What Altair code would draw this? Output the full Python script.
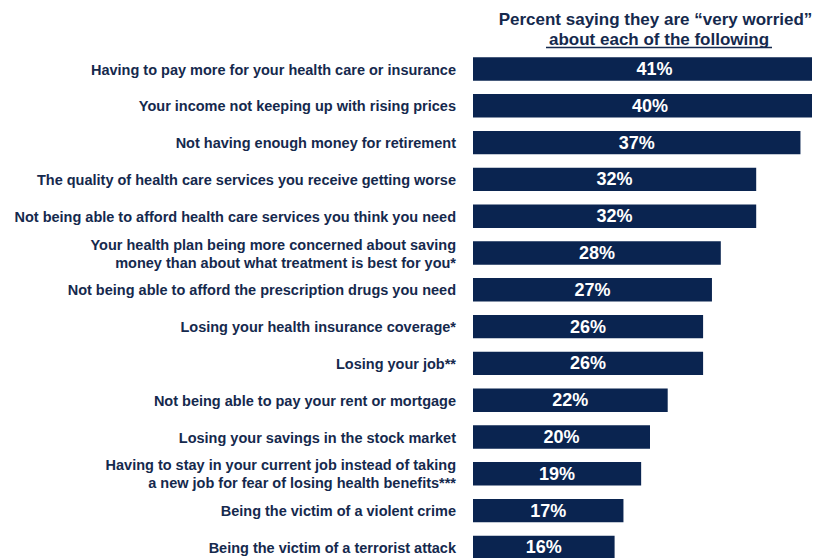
import altair as alt
import pandas as pd

labels = [
    "Having to pay more for your health care or insurance",
    "Your income not keeping up with rising prices",
    "Not having enough money for retirement",
    "The quality of health care services you receive getting worse",
    "Not being able to afford health care services you think you need",
    "Your health plan being more concerned about saving\nmoney than about what treatment is best for you*",
    "Not being able to afford the prescription drugs you need",
    "Losing your health insurance coverage*",
    "Losing your job**",
    "Not being able to pay your rent or mortgage",
    "Losing your savings in the stock market",
    "Having to stay in your current job instead of taking\na new job for fear of losing health benefits***",
    "Being the victim of a violent crime",
    "Being the victim of a terrorist attack",
]
values = [41, 40, 37, 32, 32, 28, 27, 26, 26, 22, 20, 19, 17, 16]

title_line1 = "Percent saying they are \u201cvery worried\u201d"
title_line2 = "about each of the following"

NAVY = "#0a2450"
TEXT = "#15294d"
FONT = "Liberation Sans"

UNIT = 36.8           # pixels per row
FIRST = 61            # chart-y of the first row centre
HEIGHT = 550
WIDTH = 339
PX_PER_PCT = 8.85
LINE_H = 18

half = 11.7 / UNIT
df = pd.DataFrame({
    "idx": list(range(len(labels))),
    "label": labels,
    "value": values,
})
df["start"] = 0
df["lo"] = df["idx"] - half
df["hi"] = df["idx"] + half
df["mid"] = df["value"] / 2
df["pct"] = [f"{v}%" for v in values]
nlines = df["label"].str.count("\n") + 1
df["label_y"] = df["idx"] - (nlines - 1) * (LINE_H / UNIT) / 2

y0 = -FIRST / UNIT
y1 = y0 + HEIGHT / UNIT
xs = alt.Scale(domain=[0, WIDTH / PX_PER_PCT], nice=False, zero=False)
ys = alt.Scale(domain=[y0, y1], nice=False, zero=False, reverse=True)

base = alt.Chart(df)

bars = base.mark_rect(color=NAVY, clip=True).encode(
    x=alt.X("start:Q", scale=xs, axis=None),
    x2="value:Q",
    y=alt.Y("lo:Q", scale=ys, axis=None),
    y2="hi:Q",
)

pct = base.mark_text(
    color="white", font=FONT, fontWeight="bold", fontSize=18,
    baseline="middle", align="center", clip=True, dy=1,
).encode(
    x=alt.X("mid:Q", scale=xs, axis=None),
    y=alt.Y("idx:Q", scale=ys, axis=None),
    text="pct:N",
)

cats = base.mark_text(
    color=TEXT, font=FONT, fontWeight="bold", fontSize=14.5,
    baseline="middle", align="right", lineBreak="\n", lineHeight=LINE_H,
    dy=1.5,
).encode(
    x=alt.value(-17),
    y=alt.Y("label_y:Q", scale=ys, axis=None),
    text="label:N",
)

t1 = alt.Chart(pd.DataFrame({"t": [title_line1]})).mark_text(
    color=TEXT, font=FONT, fontWeight="bold", fontSize=17,
    baseline="alphabetic", align="center",
).encode(x=alt.value(182.5), y=alt.value(17), text="t:N")

t2 = alt.Chart(pd.DataFrame({"t": [title_line2]})).mark_text(
    color=TEXT, font=FONT, fontWeight="bold", fontSize=17,
    baseline="alphabetic", align="center",
).encode(x=alt.value(186), y=alt.value(36.5), text="t:N")

underline = alt.Chart(pd.DataFrame({"t": [0]})).mark_rule(
    color=TEXT, strokeWidth=1.5
).encode(x=alt.value(73), x2=alt.value(299), y=alt.value(39.5))

chart = alt.layer(bars, pct, cats, t1, t2, underline).properties(
    width=WIDTH,
    height=HEIGHT,
    autosize=alt.AutoSizeParams(type="none"),
    padding={"left": 465, "top": 0, "right": 0, "bottom": 0},
).configure_view(stroke=None)

chart.save("out.html", embed_options={"renderer": "svg", "actions": False})
